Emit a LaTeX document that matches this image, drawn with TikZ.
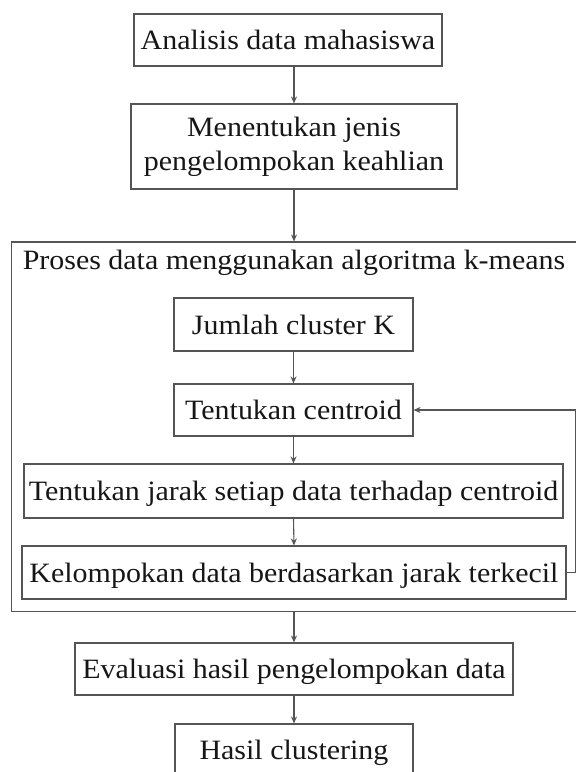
\documentclass[tikz,border=0pt]{standalone}
\usepackage{fontspec}
\setmainfont{Liberation Serif}[FakeStretch=1.07]
\usetikzlibrary{arrows.meta}
\definecolor{linec}{RGB}{85,85,85}
\definecolor{textc}{RGB}{22,22,22}
\tikzset{
  boxbase/.style={draw=linec, line width=1.1pt, inner sep=0pt, align=center, text=textc,
    font=\fontsize{28pt}{34pt}\selectfont},
  onebox/.style={boxbase, text height=22pt, text depth=3pt},
  arr/.style={draw=linec, line width=1.1pt, -{Stealth[length=7pt,width=6pt]}},
  lin/.style={draw=linec, line width=1.1pt},
}
\begin{document}
\begin{tikzpicture}[x=1pt,y=-1pt]
\useasboundingbox (0,0) rectangle (576,772);
\clip (0,0) rectangle (576,772);
\fill[white] (0,0) rectangle (576,772);
% outer flow
\node[onebox, minimum width=308pt, minimum height=52pt] (b1) at (288,40) {Analisis data mahasiswa};
\node[boxbase, minimum width=326pt, minimum height=85pt] (b2) at (294,146.5) {Menentukan jenis\\pengelompokan keahlian};
\node[boxbase, minimum width=568.5pt, minimum height=369.5pt] (big) at (295.75,426.75) {};
\node[text=textc, font=\fontsize{28pt}{34pt}\selectfont, inner sep=0pt, text height=22pt, text depth=3pt] (title) at (294,259.5) {Proses data menggunakan algoritma k-means};
% inner flow
\node[onebox, minimum width=239pt, minimum height=53pt] (b3) at (293.5,324.5) {Jumlah cluster K};
\node[onebox, minimum width=239pt, minimum height=52pt] (b4) at (293.5,410) {Tentukan centroid};
\node[onebox, minimum width=539pt, minimum height=54pt] (b5) at (293.5,491) {Tentukan jarak setiap data terhadap centroid};
\node[onebox, minimum width=544pt, minimum height=53pt] (b6) at (294,572.5) {Kelompokan data berdasarkan jarak terkecil};
% bottom
\node[onebox, minimum width=438pt, minimum height=52pt] (b7) at (294,669) {Evaluasi hasil pengelompokan data};
\node[onebox, minimum width=238pt, minimum height=52pt] (b8) at (294,750) {Hasil clustering};
% connectors
\draw[arr] (b1.south -| b2.north) -- (b2.north);
\draw[arr] (b2.south) -- (b2.south |- big.north);
\draw[arr] (b3.south) -- (b4.north);
\draw[arr] (b4.south) -- (b5.north);
\draw[arr] (b5.south) -- (b6.north);
\draw[arr] (big.south -| b7.north) -- (b7.north);
\draw[arr] (b7.south) -- (b8.north);
\coordinate (lp1) at (575.5,572.5);
\coordinate (lp2) at (575.5,410);
\draw[lin] (b6.east) -- (lp1) -- (lp2);
\draw[arr] (lp2) -- (b4.east);
\end{tikzpicture}
\end{document}
